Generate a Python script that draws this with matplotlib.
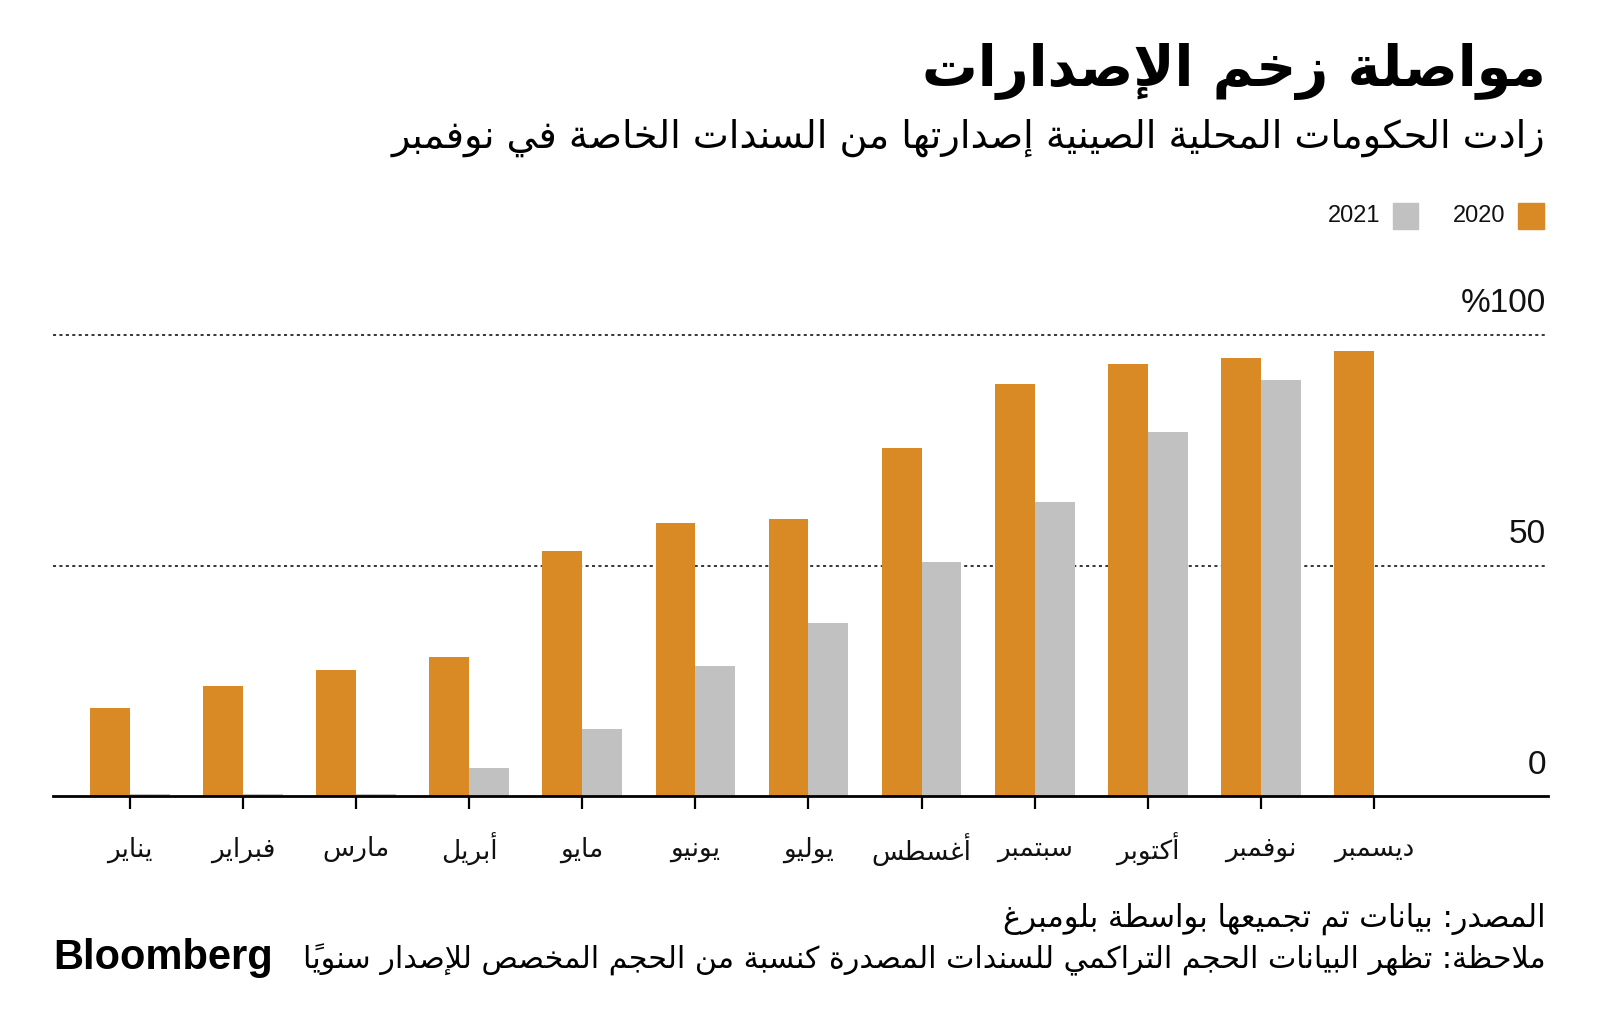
import matplotlib
matplotlib.use("Agg")
import matplotlib.pyplot as plt
from matplotlib.patches import Rectangle
import numpy as np

# ---------------- data ----------------
months = ["يناير", "فبراير", "مارس", "أبريل", "مايو", "يونيو",
          "يوليو", "أغسطس", "سبتمبر", "أكتوبر", "نوفمبر", "ديسمبر"]
vals_2020 = [19.2, 23.9, 27.4, 30.3, 53.1, 59.3, 60.2, 75.4, 89.4, 93.6, 94.9, 96.5]
vals_2021 = [0.4, 0.4, 0.4, 6.2, 14.6, 28.3, 37.6, 50.7, 63.7, 79.0, 90.3, np.nan]
series_names = ["2020", "2021"]
ytick_vals = [0, 50, 100]
ytick_labels = ["0", "50", "%100"]
title = "مواصلة زخم الإصدارات"
subtitle = "زادت الحكومات المحلية الصينية إصدارتها من السندات الخاصة في نوفمبر"
source = "المصدر: بيانات تم تجميعها بواسطة بلومبرغ"
note = "ملاحظة: تظهر البيانات الحجم التراكمي للسندات المصدرة كنسبة من الحجم المخصص للإصدار سنوياً"
brand = "Bloomberg"

ORANGE = "#DA8A24"
GREY = "#C1C1C1"

# ---------------- minimal Arabic shaping (contextual forms + RTL) ----------------
_TABLE = [
    (0x0621, 0xFE80, 1), (0x0622, 0xFE81, 2), (0x0623, 0xFE83, 2), (0x0624, 0xFE85, 2),
    (0x0625, 0xFE87, 2), (0x0626, 0xFE89, 4), (0x0627, 0xFE8D, 2), (0x0628, 0xFE8F, 4),
    (0x0629, 0xFE93, 2), (0x062A, 0xFE95, 4), (0x062B, 0xFE99, 4), (0x062C, 0xFE9D, 4),
    (0x062D, 0xFEA1, 4), (0x062E, 0xFEA5, 4), (0x062F, 0xFEA9, 2), (0x0630, 0xFEAB, 2),
    (0x0631, 0xFEAD, 2), (0x0632, 0xFEAF, 2), (0x0633, 0xFEB1, 4), (0x0634, 0xFEB5, 4),
    (0x0635, 0xFEB9, 4), (0x0636, 0xFEBD, 4), (0x0637, 0xFEC1, 4), (0x0638, 0xFEC5, 4),
    (0x0639, 0xFEC9, 4), (0x063A, 0xFECD, 4), (0x0641, 0xFED1, 4), (0x0642, 0xFED5, 4),
    (0x0643, 0xFED9, 4), (0x0644, 0xFEDD, 4), (0x0645, 0xFEE1, 4), (0x0646, 0xFEE5, 4),
    (0x0647, 0xFEE9, 4), (0x0648, 0xFEED, 2), (0x0649, 0xFEEF, 2), (0x064A, 0xFEF1, 4),
]
FORMS = {chr(c): (s, n) for c, s, n in _TABLE}
LAMALEF = {"\u0622": 0xFEF5, "\u0623": 0xFEF7, "\u0625": 0xFEF9, "\u0627": 0xFEFB}


def is_mark(ch):
    return 0x064B <= ord(ch) <= 0x0652


def shape(text):
    units = []  # [glyph_start, nforms, marks, is_letter]
    i = 0
    while i < len(text):
        ch = text[i]
        if ch == "\u0644" and i + 1 < len(text) and text[i + 1] in LAMALEF:
            units.append([LAMALEF[text[i + 1]], 2, "", True])
            i += 2
            continue
        if is_mark(ch) and units:
            units[-1][2] += ch
            i += 1
            continue
        if ch in FORMS:
            s, n = FORMS[ch]
            units.append([s, n, "", True])
        else:
            units.append([ch, 0, "", False])
        i += 1
    out = []
    for k, (g, n, marks, letter) in enumerate(units):
        if not letter:
            out.append(g + marks)
            continue
        prev = units[k - 1] if k > 0 else None
        nxt = units[k + 1] if k + 1 < len(units) else None
        jp = n >= 2 and prev is not None and prev[3] and prev[1] == 4
        jn = n == 4 and nxt is not None and nxt[3] and nxt[1] >= 2
        if jp and jn:
            off = 3
        elif jp:
            off = 1
        elif jn:
            off = 2
        else:
            off = 0
        out.append(chr(g + off) + marks)
    return "".join(reversed(out))


# ---------------- figure ----------------
W, H = 1600, 1036
fig = plt.figure(figsize=(W / 100, H / 100), dpi=100)
fig.patch.set_facecolor("white")

AR = ["DejaVu Sans"]
NUM = ["Liberation Sans", "DejaVu Sans"]

# layout measured on a 0.9795-scaled view of the reference
DW, DH = W * 0.9795, H * 0.9795


def fx(x):
    return x / DW


def fy(y):
    return 1 - y / DH


ax_left, ax_right, ax_top, ax_bottom = 52, 1516, 328, 780
ax = fig.add_axes([fx(ax_left), fy(ax_bottom), (ax_right - ax_left) / DW, (ax_bottom - ax_top) / DH])
ax.set_facecolor("white")

x = np.arange(len(months))
bw = 0.352
ax.bar(x - bw / 2, vals_2020, width=bw, color=ORANGE, zorder=2)
ax.bar(x + bw / 2, vals_2021, width=bw, color=GREY, zorder=2)

ax.set_xlim(-0.677, 12.534)
ax.set_ylim(0, 100)
for s in ax.spines.values():
    s.set_visible(False)
ax.set_yticks([])
ax.set_xticks(x)
ax.set_xticklabels([])
ax.tick_params(axis="x", length=9, width=1.6, color="black", direction="out")

for v in ytick_vals:
    if v == 0:
        ax.axhline(v, color="black", lw=2.0, zorder=3, clip_on=False)
    else:
        ax.axhline(v, color="black", lw=1.1, ls=(0, (2, 2.2)), zorder=1, clip_on=False)

ytr = ax.get_yaxis_transform()
for v, lab in zip(ytick_vals, ytick_labels):
    ax.text(0.9987, v + 4.9, lab, transform=ytr, ha="right", va="baseline",
            fontsize=24, family=NUM, color="#111111")

xtr = ax.get_xaxis_transform()
for xi, m in zip(x, months):
    ax.text(xi, -0.115, shape(m), transform=xtr, ha="center", va="center",
            fontsize=19, family=AR, color="#111111")

# titles
fig.text(fx(1514), fy(70), shape(title), ha="right", va="center",
         fontsize=40, fontweight="bold", family=AR, color="black")
fig.text(fx(1514), fy(135), shape(subtitle), ha="right", va="center",
         fontsize=27.5, family=AR, color="black")

# legend
sq = 25
for name, col, xr in [(series_names[0], ORANGE, 1512), (series_names[1], GREY, 1389)]:
    fig.patches.append(Rectangle((fx(xr - sq), fy(224)), sq / DW, sq / DH,
                                 transform=fig.transFigure, color=col))
    fig.text(fx(xr - sq - 12), fy(212), name, ha="right", va="center",
             fontsize=17, family=NUM, color="#111111")

# footer
fig.text(fx(1514), fy(900), shape(source), ha="right", va="center",
         fontsize=22, family=AR, color="black")
fig.text(fx(1514), fy(940), shape(note), ha="right", va="center",
         fontsize=21.7, family=AR, color="black")
fig.text(fx(52), fy(938), brand, ha="left", va="center",
         fontsize=30, fontweight="bold", family=NUM, color="black")

fig.savefig("out.png", dpi=100, facecolor="white")
